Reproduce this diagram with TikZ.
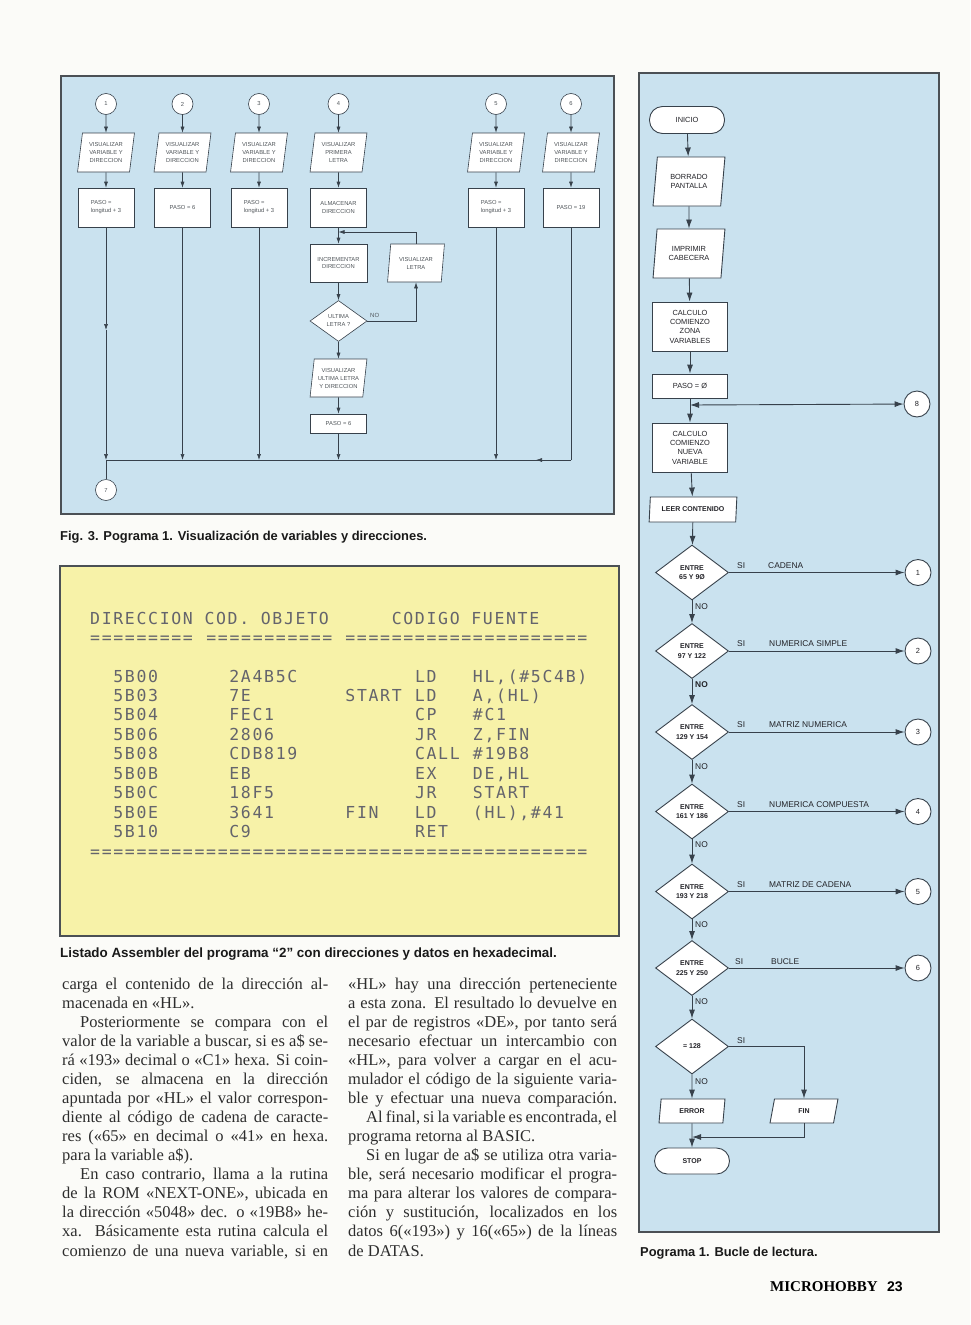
\documentclass[tikz,border=0pt]{standalone}
\usepackage{fontspec}
\setmainfont{Liberation Serif}
\setsansfont{Liberation Sans}
\newfontfamily\lstfont{DejaVu Sans Mono}[WordSpace={1,0,0},LetterSpace=10.1]
\usetikzlibrary{shapes.geometric,arrows.meta}
\definecolor{pagebg}{RGB}{251,251,248}
\definecolor{bluebg}{RGB}{202,226,239}
\definecolor{yelbg}{RGB}{247,242,168}
\definecolor{framec}{RGB}{75,80,85}
\definecolor{linec}{RGB}{55,65,75}
\definecolor{ltext}{RGB}{80,85,90}
\definecolor{rtext}{RGB}{35,35,40}
\definecolor{lsttext}{RGB}{100,100,108}
\definecolor{bodytext}{RGB}{45,45,45}
\tikzset{
 panelframe/.style={draw=framec, line width=1.2pt},
 lnode/.style={draw=linec, fill=white, line width=0.6pt, inner sep=0pt, font=\sffamily\fontsize{5.8}{8}\selectfont, text=ltext, align=center},
 lrect/.style={lnode, rectangle, minimum width=56pt, minimum height=39pt},
 lpara/.style={lnode, trapezium, trapezium left angle=80, trapezium right angle=100, trapezium stretches=true, minimum width=57pt, minimum height=39pt},
 lcirc/.style={lnode, circle, minimum size=21pt},
 ldiam/.style={lnode, diamond, minimum width=57pt, minimum height=41pt},
 larr/.style={draw=linec, line width=0.6pt, -{Latex[length=6pt,width=4pt]}},
 lline/.style={draw=linec, line width=0.6pt},
 llab/.style={font=\sffamily\fontsize{6}{7}\selectfont, text=ltext, inner sep=0pt, anchor=base west},
 rnode/.style={draw=linec, fill=white, line width=0.9pt, inner sep=0pt, font=\sffamily\fontsize{7.4}{9.3}\selectfont, text=rtext, align=center},
 rbold/.style={font=\sffamily\bfseries\fontsize{7}{9.3}\selectfont},
 rrect/.style={rnode, rectangle, minimum width=75pt, minimum height=49pt},
 rpara/.style={rnode, trapezium, trapezium left angle=80, trapezium right angle=100, trapezium stretches=true, minimum width=72pt, minimum height=49pt},
 rcirc/.style={rnode, circle, minimum size=26pt},
 rdiam/.style={rnode, rbold, diamond, minimum width=73pt, minimum height=55pt},
 rterm/.style={rnode, rectangle, rounded corners=13pt, minimum width=75pt, minimum height=27pt},
 rarr/.style={draw=linec, line width=0.9pt, -{Latex[length=9pt,width=6pt]}},
 rline/.style={draw=linec, line width=0.9pt},
 rlab/.style={font=\sffamily\fontsize{8.4}{10}\selectfont, text=rtext, inner sep=0pt, anchor=base west},
 lst/.style={font=\lstfont\fontsize{16.5}{20}\selectfont, text=lsttext, inner sep=0pt, anchor=base west},
 bodytxt/.style={font=\rmfamily\fontsize{16.5}{19}\selectfont, text=bodytext, inner sep=0pt, anchor=base west},
 captxt/.style={font=\sffamily\bfseries\fontsize{12.9}{15}\selectfont, text=black!90, inner sep=0pt, anchor=base west},
}
\newcommand\bodyJ[5]{\node[bodytxt] (#1) at (#2,#3) {\makebox[#4pt][s]{#5}};}
\newcommand\bodyL[4]{\node[bodytxt] (#1) at (#2,#3) {#4};}
\newcommand\lrow[7]{\node[lst] (#1) at (113.2,#2) {\makebox[116pt][l]{#3}\makebox[116pt][l]{#4}\makebox[69.6pt][l]{#5}\makebox[58pt][l]{#6}#7};}
\begin{document}
\begin{tikzpicture}[x=1pt,y=-1pt]
\fill[pagebg] (0,0) rectangle (970,1325);
\useasboundingbox (0,0) rectangle (970,1325);
% ---------- panels
\filldraw[panelframe, fill=bluebg] (61,76) rectangle (614,514);
\filldraw[panelframe, fill=bluebg] (639,73) rectangle (939,1232);
\filldraw[panelframe, fill=yelbg] (60,566) rectangle (619,936);

% ---------- left flowchart
\node[lcirc] (c1) at (106,104) {1};
\node[lcirc] (c2) at (182.5,104) {2};
\node[lcirc] (c3) at (259,104) {3};
\node[lcirc] (c4) at (338.5,104) {4};
\node[lcirc] (c5) at (496,104) {5};
\node[lcirc] (c6) at (571,104) {6};
\node[lpara] (p1) at (106,152.5) {VISUALIZAR\\VARIABLE Y\\DIRECCION};
\node[lpara] (p2) at (182.5,152.5) {VISUALIZAR\\VARIABLE Y\\DIRECCION};
\node[lpara] (p3) at (259,152.5) {VISUALIZAR\\VARIABLE Y\\DIRECCION};
\node[lpara] (p4) at (338.5,152.5) {VISUALIZAR\\PRIMERA\\LETRA};
\node[lpara] (p5) at (496,152.5) {VISUALIZAR\\VARIABLE Y\\DIRECCION};
\node[lpara] (p6) at (571,152.5) {VISUALIZAR\\VARIABLE Y\\DIRECCION};
\node[lrect, align=left] (r1) at (106,207.5) {PASO =\\longitud + 3};
\node[lrect] (r2) at (182.5,207.5) {PASO = 6};
\node[lrect, align=left] (r3) at (259,207.5) {PASO =\\longitud + 3};
\node[lrect] (r4) at (338.5,207.5) {ALMACENAR\\DIRECCION};
\node[lrect, align=left] (r5) at (496,207.5) {PASO =\\longitud + 3};
\node[lrect] (r6) at (571,207.5) {PASO = 19};
\node[lrect, minimum height=38pt, minimum width=57pt] (inc) at (338.5,263) {INCREMENTAR\\DIRECCION};
\node[lpara, minimum height=38pt] (vl) at (416,263) {VISUALIZAR\\LETRA};
\node[ldiam] (d4) at (338.5,321) {ULTIMA\\LETRA ?};
\node[lpara, minimum height=38pt] (vul) at (338.5,378) {VISUALIZAR\\ULTIMA LETRA\\Y DIRECCION};
\node[lrect, minimum height=19pt] (ps6) at (338.5,423.5) {PASO = 6};
\node[lcirc] (c7) at (106,490) {7};
\node[llab] (no4) at (370,317) {NO};
\coordinate (j1) at (106,460);
\coordinate (j2) at (182.5,460);
\coordinate (j3) at (259,460);
\coordinate (j4) at (338.5,460);
\coordinate (j5) at (496,460);
\coordinate (j6) at (571,460);
\coordinate (a6) at (536,460);
\coordinate (m1) at (106,330);
\coordinate (k4) at (338.5,232);
\foreach \i in {1,...,6} {
  \draw[larr] (c\i) -- (p\i);
  \draw[larr] (p\i) -- (r\i);
}
\draw[larr] (r1) -- (m1);
\draw[larr] (m1) -- (j1);
\draw[larr] (r2) -- (j2);
\draw[larr] (r3) -- (j3);
\draw[larr] (r5) -- (j5);
\draw[lline] (r6) -- (j6);
\draw[larr] (j6) -- (a6);
\draw[lline] (j1) -- (j6);
\draw[lline] (j1) -- (c7);
\draw[larr] (r4) -- (inc);
\draw[larr] (vl.north) |- (k4);
\draw[larr] (inc) -- (d4);
\draw[larr] (d4.east) -| (vl.south);
\draw[larr] (d4) -- (vul);
\draw[larr] (vul) -- (ps6);
\draw[larr] (ps6) -- (j4);
\node[captxt] (cap1) at (60,540.5) {Fig. 3. Pograma 1. Visualización de variables y direcciones.};

% ---------- right flowchart
\node[rterm] (ini) at (687,120) {INICIO};
\node[rpara] (bor) at (689,181.5) {BORRADO\\PANTALLA};
\node[rpara] (imp) at (689,253.5) {IMPRIMIR\\CABECERA};
\node[rrect] (cal) at (690,326.5) {CALCULO\\COMIENZO\\ZONA\\VARIABLES};
\node[rrect, minimum height=24pt] (paso) at (690,386) {PASO = Ø};
\coordinate (j8) at (690,405);
\node[rcirc] (o8) at (917,404) {8};
\node[rrect] (nue) at (690,447.5) {CALCULO\\COMIENZO\\NUEVA\\VARIABLE};
\node[rpara, rbold, minimum width=88pt, minimum height=25pt] (leer) at (693,509.5) {LEER CONTENIDO};
\node[rdiam] (d1) at (692,572.5) {ENTRE\\65 Y 9Ø};
\node[rdiam] (d2) at (692,651) {ENTRE\\97 Y 122};
\node[rdiam] (d3) at (692,732) {ENTRE\\129 Y 154};
\node[rdiam] (d4r) at (692,811.5) {ENTRE\\161 Y 186};
\node[rdiam] (d5) at (692,891.5) {ENTRE\\193 Y 218};
\node[rdiam] (d6) at (692,968) {ENTRE\\225 Y 250};
\node[rdiam] (d7) at (692,1046.5) {= 128};
\node[rcirc] (o1) at (918,572.5) {1};
\node[rcirc] (o2) at (918,651) {2};
\node[rcirc] (o3) at (918,732) {3};
\node[rcirc] (o4) at (918,811.5) {4};
\node[rcirc] (o5) at (918,891.5) {5};
\node[rcirc] (o6) at (918,968) {6};
\node[rpara, rbold, minimum width=66pt, minimum height=24pt] (err) at (692,1111) {ERROR};
\node[rpara, rbold, minimum width=68pt, minimum height=24pt] (fin) at (804,1111) {FIN};
\node[rterm, rbold, minimum height=26pt] (stop) at (692,1161) {STOP};
\coordinate (mfin) at (692,1137);
\draw[rarr] (ini) -- (bor);
\draw[rarr] (bor) -- (imp);
\draw[rarr] (imp) -- (cal);
\draw[rarr] (cal) -- (paso);
\draw[rarr] (paso) -- (nue);
\draw[draw=linec, line width=0.9pt, {Latex[length=9pt,width=6pt]}-{Latex[length=9pt,width=6pt]}] (j8) -- (o8);
\draw[rarr] (nue) -- (leer);
\draw[rarr] (leer) -- (d1);
\draw[rarr] (d1) -- (d2);
\draw[rarr] (d2) -- (d3);
\draw[rarr] (d3) -- (d4r);
\draw[rarr] (d4r) -- (d5);
\draw[rarr] (d5) -- (d6);
\draw[rarr] (d6) -- (d7);
\draw[rarr] (d1) -- (o1);
\draw[rarr] (d2) -- (o2);
\draw[rarr] (d3) -- (o3);
\draw[rarr] (d4r) -- (o4);
\draw[rarr] (d5) -- (o5);
\draw[rarr] (d6) -- (o6);
\draw[rarr] (d7.east) -| (fin.north);
\draw[rarr] (d7) -- (err);
\draw[rarr] (err) -- (stop);
\draw[rarr] (fin.south) |- (mfin);
\node[rlab] (s1) at (737,568) {SI};
\node[rlab] (l1) at (768,568) {CADENA};
\node[rlab] (s2) at (737,646.5) {SI};
\node[rlab] (l2) at (769,646.5) {NUMERICA SIMPLE};
\node[rlab] (s3) at (737,727.5) {SI};
\node[rlab] (l3) at (769,727.5) {MATRIZ NUMERICA};
\node[rlab] (s4) at (737,807) {SI};
\node[rlab] (l4) at (769,807) {NUMERICA COMPUESTA};
\node[rlab] (s5) at (737,887) {SI};
\node[rlab] (l5) at (769,887) {MATRIZ DE CADENA};
\node[rlab] (s6) at (735,964) {SI};
\node[rlab] (l6) at (771,964) {BUCLE};
\node[rlab] (s7) at (737,1043) {SI};
\node[rlab] (n1) at (695,609) {NO};
\node[rlab, font=\sffamily\bfseries\fontsize{8.4}{10}\selectfont] (n2) at (695,687) {NO};
\node[rlab] (n3) at (695,769) {NO};
\node[rlab] (n4) at (695,847) {NO};
\node[rlab] (n5) at (695,927) {NO};
\node[rlab] (n6) at (695,1004) {NO};
\node[rlab] (n7) at (695,1084) {NO};
\node[captxt] (cap3) at (640,1256) {Pograma 1. Bucle de lectura.};

% ---------- assembler listing
\node[lst] (hd1) at (90,624.5) {DIRECCION COD. OBJETO};
\node[lst] (hd2) at (391.6,624.5) {CODIGO FUENTE};
\node[lst] (eq1) at (90,643) {=========};
\node[lst] (eq2) at (206.2,643) {===========};
\node[lst] (eq3) at (345.2,643) {=====================};
\lrow{a1}{682.5}{5B00}{2A4B5C}{}{LD}{HL,(\#5C4B)}
\lrow{a2}{701.5}{5B03}{7E}{START}{LD}{A,(HL)}
\lrow{a3}{720.5}{5B04}{FEC1}{}{CP}{\#C1}
\lrow{a4}{740.5}{5B06}{2806}{}{JR}{Z,FIN}
\lrow{a5}{759.5}{5B08}{CDB819}{}{CALL}{\#19B8}
\lrow{a6}{779.5}{5B0B}{EB}{}{EX}{DE,HL}
\lrow{a7}{798.5}{5B0C}{18F5}{}{JR}{START}
\lrow{a8}{818.5}{5B0E}{3641}{FIN}{LD}{(HL),\#41}
\lrow{a9}{837.5}{5B10}{C9}{}{RET}{}
\node[lst] (eq4) at (90,857) {===========================================};
\node[captxt, font=\sffamily\bfseries\fontsize{13.4}{15}\selectfont] (cap2) at (60,957.5) {Listado Assembler del programa “2” con direcciones y datos en hexadecimal.};

% ---------- body text, column 1
\bodyJ{t1}{62}{989}{266}{carga el contenido de la dirección al-}
\bodyL{t2}{62}{1008.07}{macenada en «HL».}
\bodyJ{t3}{80}{1027.14}{248}{Posteriormente se compara con el}
\bodyJ{t4}{62}{1046.21}{266}{valor de la variable a buscar, si es a\$ se-}
\bodyJ{t5}{62}{1065.28}{266}{rá «193» decimal o «C1» hexa. Si coin-}
\bodyJ{t6}{62}{1084.35}{266}{ciden, se almacena en la dirección}
\bodyJ{t7}{62}{1103.42}{266}{apuntada por «HL» el valor correspon-}
\bodyJ{t8}{62}{1122.49}{266}{diente al código de cadena de caracte-}
\bodyJ{t9}{62}{1141.56}{266}{res («65» en decimal o «41» en hexa.}
\bodyL{t10}{62}{1160.63}{para la variable a\$).}
\bodyJ{t11}{80}{1179.7}{248}{En caso contrario, llama a la rutina}
\bodyJ{t12}{62}{1198.77}{266}{de la ROM «NEXT-ONE», ubicada en}
\bodyJ{t13}{62}{1217.84}{266}{la dirección «5048» dec. o «19B8» he-}
\bodyJ{t14}{62}{1236.91}{266}{xa. Básicamente esta rutina calcula el}
\bodyJ{t15}{62}{1256}{266}{comienzo de una nueva variable, si en}
% ---------- body text, column 2
\bodyJ{u1}{348}{989}{269}{«HL» hay una dirección perteneciente}
\bodyJ{u2}{348}{1008.07}{269}{a esta zona. El resultado lo devuelve en}
\bodyJ{u3}{348}{1027.14}{269}{el par de registros «DE», por tanto será}
\bodyJ{u4}{348}{1046.21}{269}{necesario efectuar un intercambio con}
\bodyJ{u5}{348}{1065.28}{269}{«HL», para volver a cargar en el acu-}
\bodyJ{u6}{348}{1084.35}{269}{mulador el código de la siguiente varia-}
\bodyJ{u7}{348}{1103.42}{269}{ble y efectuar una nueva comparación.}
\bodyJ{u8}{366}{1122.49}{251}{Al final, si la variable es encontrada, el}
\bodyL{u9}{348}{1141.56}{programa retorna al BASIC.}
\bodyJ{u10}{366}{1160.63}{251}{Si en lugar de a\$ se utiliza otra varia-}
\bodyJ{u11}{348}{1179.7}{269}{ble, será necesario modificar el progra-}
\bodyJ{u12}{348}{1198.77}{269}{ma para alterar los valores de compara-}
\bodyJ{u13}{348}{1217.84}{269}{ción y sustitución, localizados en los}
\bodyJ{u14}{348}{1236.91}{269}{datos 6(«193») y 16(«65») de la líneas}
\bodyL{u15}{348}{1256}{de DATAS.}

% ---------- footer
\node[font=\rmfamily\bfseries\fontsize{15}{17}\selectfont, inner sep=0pt, anchor=base west] (foot) at (770,1291) {MICROHOBBY};
\node[font=\sffamily\bfseries\fontsize{14}{17}\selectfont, inner sep=0pt, anchor=base west] (pg) at (887,1291) {23};
\end{tikzpicture}
\end{document}
